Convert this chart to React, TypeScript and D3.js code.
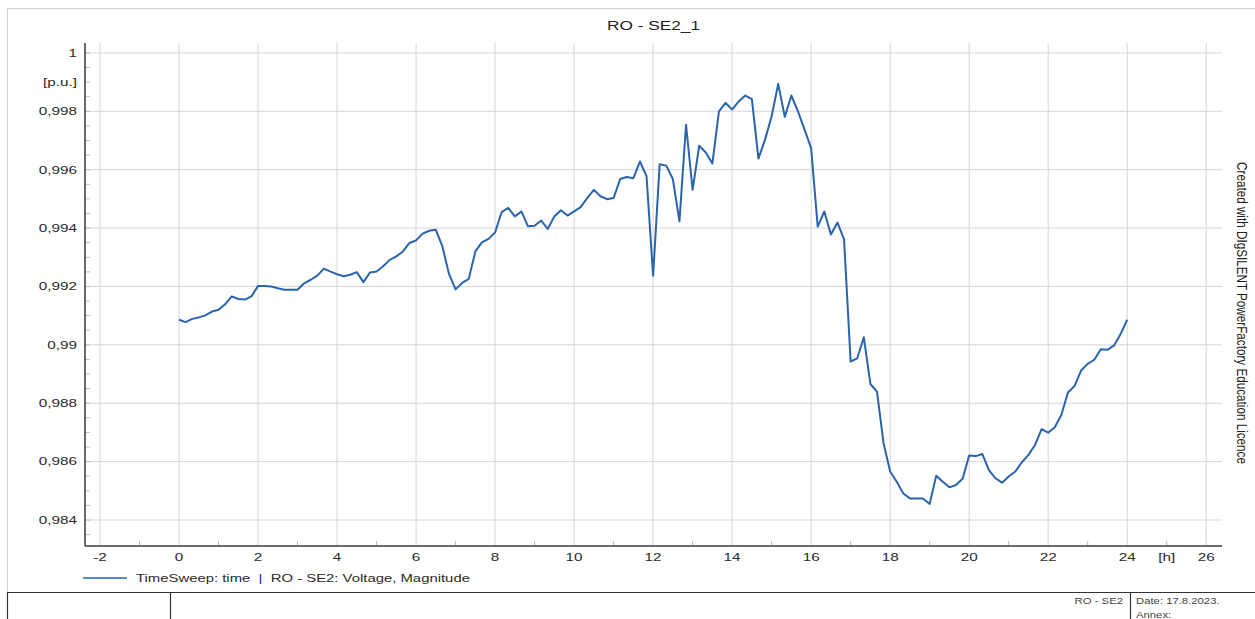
import React from "react";
import * as d3 from "d3";

// ---- Data ----
const TITLE = "RO - SE2_1";
const STEP_MINUTES = 10; // TimeSweep resolution
const VOLTAGE_PU: number[] = [
  0.99086, 0.99078, 0.99089, 0.99094, 0.99101, 0.99114, 0.9912, 0.99139, 0.99166, 0.99157,
  0.99155, 0.99166, 0.99202, 0.99202, 0.992, 0.99194, 0.99189, 0.99189, 0.99189, 0.99211,
  0.99223, 0.99237, 0.99261, 0.99251, 0.99242, 0.99235, 0.9924, 0.99249, 0.99215, 0.99248,
  0.99251, 0.99269, 0.99291, 0.99303, 0.9932, 0.99349, 0.99358, 0.99381, 0.99391, 0.99394,
  0.99337, 0.99243, 0.9919, 0.99212, 0.99226, 0.9932, 0.99351, 0.99363, 0.99385, 0.99455,
  0.99469, 0.9944, 0.99457, 0.99406, 0.99408, 0.99426, 0.99397, 0.9944, 0.99461, 0.99443,
  0.99457, 0.99472, 0.99503, 0.99531, 0.99509, 0.99499, 0.99503, 0.99568, 0.99575, 0.99571,
  0.99628, 0.99578, 0.99237, 0.99619, 0.99614, 0.99568, 0.99423, 0.99754, 0.99531, 0.99682,
  0.99659, 0.99621, 0.998, 0.99829, 0.99806, 0.99834, 0.99854, 0.99842, 0.99638, 0.99703,
  0.99783, 0.99894, 0.99781, 0.99854, 0.998, 0.99737, 0.99674, 0.99405, 0.99457, 0.99378,
  0.99419, 0.99361, 0.98943, 0.98954, 0.99026, 0.98866, 0.9884, 0.98663, 0.98566, 0.98531,
  0.98491, 0.98474, 0.98474, 0.98474, 0.98455, 0.98552, 0.98531, 0.98512, 0.9852, 0.98541,
  0.98621, 0.98619, 0.98626, 0.98571, 0.98543, 0.98528, 0.98549, 0.98566, 0.98598, 0.98623,
  0.98657, 0.98711, 0.98699, 0.98718, 0.9876, 0.98837, 0.98859, 0.98912, 0.98935, 0.98949,
  0.98985, 0.98983, 0.98998, 0.99037, 0.99086,
];
const X_TICKS = [-2, 0, 2, 4, 6, 8, 10, 12, 14, 16, 18, 20, 22, 24, 26];
const X_UNIT = "[h]";
const Y_TICKS = [0.984, 0.986, 0.988, 0.99, 0.992, 0.994, 0.996, 0.998, 1];
const Y_TICK_LABELS = ["0,984", "0,986", "0,988", "0,99", "0,992", "0,994", "0,996", "0,998", "1"];
const Y_UNIT = "[p.u.]";
const Y_UNIT_AT = 0.999;
const LEGEND_TEXT = "TimeSweep: time  |  RO - SE2: Voltage, Magnitude";
const SIDE_TEXT = "Created with DIgSILENT PowerFactory Education Licence";
const FOOTER_NAME = "RO - SE2";
const FOOTER_DATE = "Date: 17.8.2023.";
const FOOTER_ANNEX = "Annex:";

// ---- Layout ----
const W = 1255;
const H = 619;
const PL = 85, PR = 1222, PT = 43, PB = 546;
const LINE_COLOR = "#2a64ae";
const GRID = "#d6d6d6";
const AXIS = "#3a3a3a";
const FONT = "'Liberation Sans', Arial, sans-serif";
const SX = 1.33;

const xScale = d3.scaleLinear().domain([-2.38, 26.4]).range([PL, PR]);
const yScale = d3.scaleLinear().domain([0.98311, 1.00034]).range([PB, PT]);

type TP = { x: number; y: number; text: string; anchor?: string; size?: number; fill?: string };
function SText({ x, y, text, anchor = "start", size = 11.5, fill = "#2a2a2a" }: TP) {
  return (
    <text
      transform={`translate(${x},${y}) scale(${SX},1)`}
      textAnchor={anchor}
      dominantBaseline="central"
      fontFamily={FONT}
      fontSize={size}
      fill={fill}
      style={{ whiteSpace: "pre" }}
    >
      {text}
    </text>
  );
}

export default function App() {
  const pts = VOLTAGE_PU.map((v, i) => [(i * STEP_MINUTES) / 60, v] as [number, number]);
  const line = d3
    .line<[number, number]>()
    .x((d) => xScale(d[0]))
    .y((d) => yScale(d[1]));

  const yMinor = d3.range(0.9835, 1.0001, 0.0005);
  const xMinor = d3.range(-1, 26, 2);

  return (
    <svg
      width={W}
      height={H}
      style={{ position: "absolute", left: 0, top: 0, display: "block", background: "#fff" }}
    >
      {/* outer frame */}
      <rect x={7.5} y={8.5} width={1260} height={700} fill="none" stroke="#d0d0d0" strokeWidth={1} />

      {/* title */}
      <SText x={(PL + PR) / 2} y={25} text={TITLE} anchor="middle" size={13} fill="#222" />

      {/* grid */}
      {X_TICKS.map((t) => (
        <line key={"gx" + t} x1={xScale(t)} x2={xScale(t)} y1={PT} y2={PB} stroke={GRID} strokeWidth={1} />
      ))}
      {Y_TICKS.map((t) => (
        <line key={"gy" + t} x1={PL} x2={PR} y1={yScale(t)} y2={yScale(t)} stroke={GRID} strokeWidth={1} />
      ))}

      {/* minor ticks */}
      {yMinor.map((t, i) => (
        <line key={"my" + i} x1={PL} x2={PL + 5} y1={yScale(t)} y2={yScale(t)} stroke="#bbb" strokeWidth={1} />
      ))}
      {xMinor.map((t) => (
        <line key={"mx" + t} x1={xScale(t)} x2={xScale(t)} y1={PB} y2={PB - 5} stroke="#bbb" strokeWidth={1} />
      ))}

      {/* axes */}
      <line x1={PL} x2={PL} y1={PT} y2={PB} stroke={AXIS} strokeWidth={1.5} />
      <line x1={PL} x2={PR} y1={PB} y2={PB} stroke={AXIS} strokeWidth={1.5} />

      {/* y labels */}
      {Y_TICKS.map((t, i) => (
        <SText key={"yl" + t} x={77} y={yScale(t)} text={Y_TICK_LABELS[i]} anchor="end" />
      ))}
      <SText x={77} y={yScale(Y_UNIT_AT)} text={Y_UNIT} anchor="end" />

      {/* x labels */}
      {X_TICKS.map((t) => (
        <SText key={"xl" + t} x={xScale(t)} y={557} text={String(t)} anchor="middle" />
      ))}
      <SText x={xScale(25)} y={557} text={X_UNIT} anchor="middle" />

      {/* data line */}
      <path d={line(pts) || ""} fill="none" stroke={LINE_COLOR} strokeWidth={2} strokeLinejoin="round" />

      {/* legend */}
      <line x1={83} x2={127} y1={578} y2={578} stroke={LINE_COLOR} strokeWidth={1.5} />
      <SText x={136} y={578} text={LEGEND_TEXT} size={11.2} />

      {/* side text */}
      <text
        transform={`translate(1242,${313}) rotate(90) scale(1,${SX})`}
        textAnchor="middle"
        dominantBaseline="central"
        fontFamily={FONT}
        fontSize={11.7}
        fill="#222"
      >
        {SIDE_TEXT}
      </text>

      {/* footer table */}
      <line x1={7} x2={W} y1={592.5} y2={592.5} stroke="#333" strokeWidth={1.2} />
      <line x1={7.5} x2={7.5} y1={592} y2={H} stroke="#333" strokeWidth={1.2} />
      <line x1={170.5} x2={170.5} y1={592} y2={H} stroke="#333" strokeWidth={1.2} />
      <line x1={1130.5} x2={1130.5} y1={592} y2={H} stroke="#333" strokeWidth={1.2} />
      <SText x={1123} y={601.5} text={FOOTER_NAME} anchor="end" size={8.5} fill="#444" />
      <SText x={1136} y={601.5} text={FOOTER_DATE} size={8.5} fill="#444" />
      <SText x={1136} y={615} text={FOOTER_ANNEX} size={8.5} fill="#444" />
    </svg>
  );
}
